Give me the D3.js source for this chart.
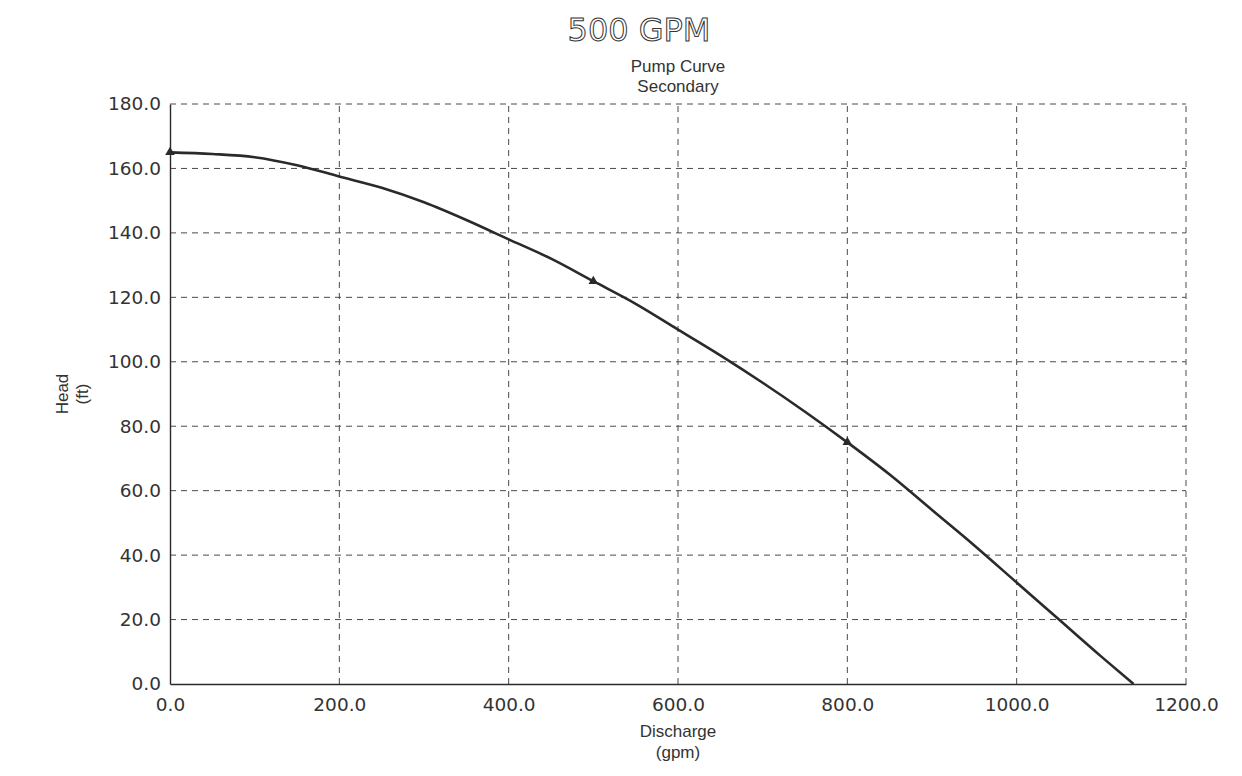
<!DOCTYPE html>
<html>
<head>
<meta charset="utf-8">
<script src="https://cdn.jsdelivr.net/npm/d3@7"></script>
<style>
  html, body { margin: 0; padding: 0; background: #ffffff; }
  svg { display: block; font-family: "Liberation Sans", Arial, sans-serif; }
</style>
</head>
<body>
<div id="chart"></div>
<script>
const discharge = [0, 50, 100, 150, 200, 250, 300, 350, 400, 450, 500, 550, 600, 650, 700, 750, 800, 850, 900, 950, 1000, 1050, 1100, 1138];
const head = [165, 164.5, 163.5, 161, 157.5, 154, 149.5, 144, 138, 132, 125, 118, 110, 102, 93.5, 84.5, 75, 65, 54, 43, 31.5, 20, 8.5, 0];
const markerDischarge = [0, 500, 800];
const markerHead = [165, 125, 75];
const xTicks = [0, 200, 400, 600, 800, 1000, 1200];
const yTicks = [0, 20, 40, 60, 80, 100, 120, 140, 160, 180];

const width = 1242;
const height = 776;
const margin = { top: 104, right: 56, bottom: 92, left: 170 };
const ink = "#2a2a2a";

const svg = d3.select("#chart")
  .append("svg")
  .attr("width", width)
  .attr("height", height);

const x = d3.scaleLinear()
  .domain([0, 1200])
  .range([margin.left, width - margin.right]);

const y = d3.scaleLinear()
  .domain([0, 180])
  .range([height - margin.bottom, margin.top]);

// dashed grid, including top and right border
svg.append("g")
  .selectAll("line")
  .data(yTicks.filter((d) => d > 0))
  .join("line")
  .attr("x1", x(0))
  .attr("x2", x(1200))
  .attr("y1", (d) => y(d))
  .attr("y2", (d) => y(d))
  .attr("stroke", "#4a4a4a")
  .attr("stroke-width", 1)
  .attr("stroke-dasharray", "6,5");

svg.append("g")
  .selectAll("line")
  .data(xTicks.filter((d) => d > 0))
  .join("line")
  .attr("x1", (d) => x(d))
  .attr("x2", (d) => x(d))
  .attr("y1", y(0))
  .attr("y2", y(180))
  .attr("stroke", "#4a4a4a")
  .attr("stroke-width", 1)
  .attr("stroke-dasharray", "6,5");

// axes
const xAxis = svg.append("g")
  .attr("transform", `translate(0, ${y(0)})`)
  .call(d3.axisBottom(x).tickValues(xTicks).tickSize(0).tickPadding(14).tickFormat(d3.format(".1f")));

const yAxis = svg.append("g")
  .attr("transform", `translate(${x(0)}, 0)`)
  .call(d3.axisLeft(y).tickValues(yTicks).tickSize(0).tickPadding(9).tickFormat(d3.format(".1f")));

[xAxis, yAxis].forEach((g) => {
  g.select(".domain").attr("stroke", ink).attr("stroke-width", 1.4);
  g.selectAll("text")
    .attr("fill", "#333")
    .style("font-size", "18.5px")
    .style("font-family", "\"DejaVu Sans\", sans-serif");
});

// curve
const line = d3.line()
  .x((d, i) => x(discharge[i]))
  .y((d, i) => y(head[i]))
  .curve(d3.curveMonotoneX);

svg.append("path")
  .datum(head)
  .attr("d", line)
  .attr("fill", "none")
  .attr("stroke", ink)
  .attr("stroke-width", 2.6);

svg.append("g")
  .selectAll("path")
  .data(markerDischarge)
  .join("path")
  .attr("d", d3.symbol(d3.symbolTriangle, 40))
  .attr("transform", (d, i) => `translate(${x(d)}, ${y(markerHead[i])})`)
  .attr("fill", ink);

// titles
const midX = (x(0) + x(1200)) / 2;

svg.append("text")
  .attr("x", 639)
  .attr("y", 41)
  .attr("text-anchor", "middle")
  .attr("fill", "none")
  .attr("stroke", "#333")
  .attr("stroke-width", 1)
  .style("font-family", "\"DejaVu Sans\", sans-serif")
  .style("font-size", "32px")
  .style("font-weight", "normal")
  .text("500 GPM");

svg.append("text")
  .attr("x", midX)
  .attr("y", 72)
  .attr("text-anchor", "middle")
  .attr("fill", "#333")
  .style("font-size", "17px")
  .text("Pump Curve");

svg.append("text")
  .attr("x", midX)
  .attr("y", 92)
  .attr("text-anchor", "middle")
  .attr("fill", "#333")
  .style("font-size", "17px")
  .text("Secondary");

svg.append("text")
  .attr("x", midX)
  .attr("y", 737)
  .attr("text-anchor", "middle")
  .attr("fill", "#333")
  .style("font-size", "17px")
  .text("Discharge");

svg.append("text")
  .attr("x", midX)
  .attr("y", 758)
  .attr("text-anchor", "middle")
  .attr("fill", "#333")
  .style("font-size", "17px")
  .text("(gpm)");

const midY = (y(0) + y(180)) / 2;

svg.append("text")
  .attr("transform", `translate(68, ${midY}) rotate(-90)`)
  .attr("text-anchor", "middle")
  .attr("fill", "#333")
  .style("font-size", "17px")
  .text("Head");

svg.append("text")
  .attr("transform", `translate(88, ${midY}) rotate(-90)`)
  .attr("text-anchor", "middle")
  .attr("fill", "#333")
  .style("font-size", "17px")
  .text("(ft)");
</script>
</body>
</html>
